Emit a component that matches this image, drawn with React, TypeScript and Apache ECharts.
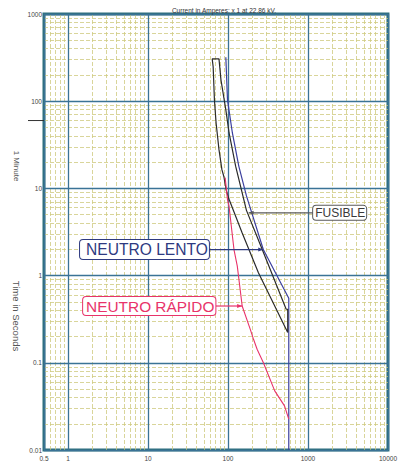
import React, { useEffect, useRef } from "react";
import * as echarts from "echarts";

// ---- axis ticks ----
const xTickLabels = ["0.5", "1", "10", "100", "1000", "10000"];
const yTickLabels = ["0.01", "0.1", "1", "10", "100", "1000"];
const minorFactors = [2, 3, 4, 5, 6, 7, 8, 9];
const xDecades = [0.1, 1, 10, 100, 1000];
const yDecades = [0.01, 0.1, 1, 10, 100];
const xMin = 0.5;
const xMax = 10000;
const yMin = 0.01;
const yMax = 1000;
const oneMinute = 60;

// ---- curves (current A, time s) ----
const fusible: [number, number][] = [
  [558, 0.222],
  [240, 1.08],
  [150, 3.1],
  [103, 7.5],
  [95, 9.5],
  [88.8, 13.6],
  [83.9, 16.4],
  [77.1, 27.8],
  [70.9, 56.6],
  [67.6, 103.8],
  [65.2, 247.5],
  [63.4, 305.6],
  [77.1, 305.6],
  [81.6, 175.8],
  [93.9, 79.7],
  [103.1, 43.2],
  [124.5, 18],
  [170, 5.6],
  [289.6, 1.67],
  [533.5, 0.411],
  [558, 0.411],
  [558, 0.222],
];

const neutroLento: [number, number][] = [
  [93.9, 319.6],
  [98.5, 103.8],
  [113.4, 43.2],
  [136.6, 17.9],
  [170, 8.2],
  [276.1, 1.99],
  [575, 0.55],
  [575, 0.01],
];

const neutroRapido: [number, number][] = [
  [92.1, 13.3],
  [98.5, 7.44],
  [103.1, 6.19],
  [118.7, 1.99],
  [130.6, 1.284],
  [150.3, 0.448],
  [189.9, 0.242],
  [208.4, 0.186],
  [231, 0.143],
  [276.1, 0.1008],
  [383.8, 0.0477],
  [508.6, 0.0321],
  [575, 0.0226],
];

// ---- annotations: tip on curve, box edge (data coords) ----
const annotations = [
  { text: "FUSIBLE", tip: [181, 5.24], edge: [1160, 5.24], side: "right", color: "#3a3a3a", border: "#5a5a5a", fontSize: 12, padding: [1, 1, 1, 2] },
  { text: "NEUTRO LENTO", tip: [276, 1.99], edge: [57.7, 1.99], side: "left", color: "#2e3a80", border: "#2e3a80", fontSize: 15.6, padding: [2, 1, 1, 6] },
  { text: "NEUTRO RÁPIDO", tip: [150, 0.448], edge: [69.5, 0.448], side: "left", color: "#e8336a", border: "#e8336a", fontSize: 15.4, padding: [2, 1, 1, 3] },
];

const FONT = "'Liberation Sans', Arial, sans-serif";

function labelFor(list: string[], v: number) {
  for (const s of list) {
    const n = parseFloat(s);
    if (Math.abs(Math.log10(n) - Math.log10(v)) < 0.01) return s;
  }
  return "";
}

export default function App() {
  const ref = useRef<HTMLDivElement>(null);
  useEffect(() => {
    const chart = echarts.init(ref.current!, null, { renderer: "svg" });
    const xMinor: number[] = [];
    xDecades.forEach((d) => minorFactors.forEach((f) => { const v = d * f; if (v > xMin && v < xMax) xMinor.push(v); }));
    const yMinor: number[] = [];
    yDecades.forEach((d) => minorFactors.forEach((f) => { const v = d * f; if (v > yMin && v < yMax) yMinor.push(v); }));

    const minorStyle = { color: "#cfca80", width: 0.8, type: [4, 2] as any };
    const option: any = {
      animation: false,
      backgroundColor: "#ffffff",
      grid: { left: 44, right: 4, top: 14, bottom: 11, show: true, borderColor: "#2f6f7e", borderWidth: 3 },
      title: {
        text: "Current in Amperes: x 1 at 22.86 kV.",
        left: 219, top: 2, textAlign: "center",
        textStyle: { fontSize: 6.5, fontWeight: "normal", color: "#333", fontFamily: FONT },
      },
      xAxis: {
        type: "log", logBase: 10, min: xMin, max: xMax, z: 2,
        axisLine: { show: false }, axisTick: { show: false },
        axisLabel: { fontSize: 6.5, color: "#444", margin: 5, fontFamily: FONT, showMinLabel: true, showMaxLabel: true, hideOverlap: false,
          formatter: (v: number) => labelFor(xTickLabels, v) },
        splitLine: { show: true, lineStyle: { color: "#3a7396", width: 1.3 } },
      },
      yAxis: {
        type: "log", logBase: 10, min: yMin, max: yMax, z: 2,
        axisLine: { show: false }, axisTick: { show: false },
        axisLabel: { fontSize: 6.5, color: "#444", margin: 2, fontFamily: FONT, showMinLabel: true, showMaxLabel: true, hideOverlap: false,
          formatter: (v: number) => labelFor(yTickLabels, v) },
        splitLine: { show: true, lineStyle: { color: "#3a7396", width: 1.3 } },
      },
      series: [
        {
          type: "line", data: [], silent: true, z: 1,
          markLine: {
            silent: true, z: 1, symbol: ["none", "none"], label: { show: false },
            lineStyle: minorStyle, emphasis: { disabled: true },
            data: [...xMinor.map((v) => ({ xAxis: v })), ...yMinor.map((v) => ({ yAxis: v }))],
          },
        },
        { type: "line", name: "FUSIBLE", data: fusible, showSymbol: false, z: 4, lineStyle: { color: "#2b2b2b", width: 1.2 }, silent: true },
        { type: "line", name: "NEUTRO LENTO", data: neutroLento, showSymbol: false, z: 3, lineStyle: { color: "#3b3f9e", width: 1.2 }, silent: true },
        { type: "line", name: "NEUTRO RÁPIDO", data: neutroRapido, showSymbol: false, z: 5, lineStyle: { color: "#e8336a", width: 1.1 }, silent: true },
      ],
    };
    chart.setOption(option);

    const toPx = (p: number[]) => chart.convertToPixel({ gridIndex: 0 }, p) as number[];
    const elements: any[] = [];
    const minY = toPx([xMin, oneMinute])[1];
    elements.push({ type: "line", shape: { x1: 28, y1: minY, x2: 44, y2: minY }, style: { stroke: "#333", lineWidth: 1 }, z: 10 });
    elements.push({ type: "text", x: 16, y: 166, rotation: -Math.PI / 2, style: { text: "1 Minute", fontSize: 8, fill: "#555", fontFamily: FONT, align: "center", verticalAlign: "middle" }, z: 10 });
    elements.push({ type: "text", x: 16, y: 316, rotation: -Math.PI / 2, style: { text: "Time in Seconds", fontSize: 9.5, fill: "#555", fontFamily: FONT, align: "center", verticalAlign: "middle" }, z: 10 });

    annotations.forEach((a) => {
      const t = toPx(a.tip);
      const e = toPx(a.edge);
      elements.push({ type: "line", shape: { x1: e[0], y1: e[1], x2: t[0], y2: t[1] }, style: { stroke: a.border, lineWidth: 1.2 }, z: 20 });
      const dir = t[0] > e[0] ? 1 : -1;
      const L = 5, W = 2;
      elements.push({
        type: "polygon",
        shape: { points: [[t[0], t[1]], [t[0] - dir * L, t[1] - W], [t[0] - dir * L, t[1] + W]] },
        style: { fill: a.border }, z: 20,
      });
      elements.push({
        type: "text", x: e[0], y: e[1], z: 21,
        style: {
          text: a.text, fontSize: a.fontSize, fill: a.color, fontFamily: FONT,
          align: a.side === "right" ? "left" : "right", verticalAlign: "middle",
          backgroundColor: "#ffffff", borderColor: a.border, borderWidth: 1, borderRadius: 3, padding: a.padding,
        },
      });
    });
    chart.setOption({ graphic: elements });
    return () => chart.dispose();
  }, []);
  return <div ref={ref} style={{ position: "fixed", left: 0, top: 0, width: 400, height: 462, background: "#fff" }} />;
}
